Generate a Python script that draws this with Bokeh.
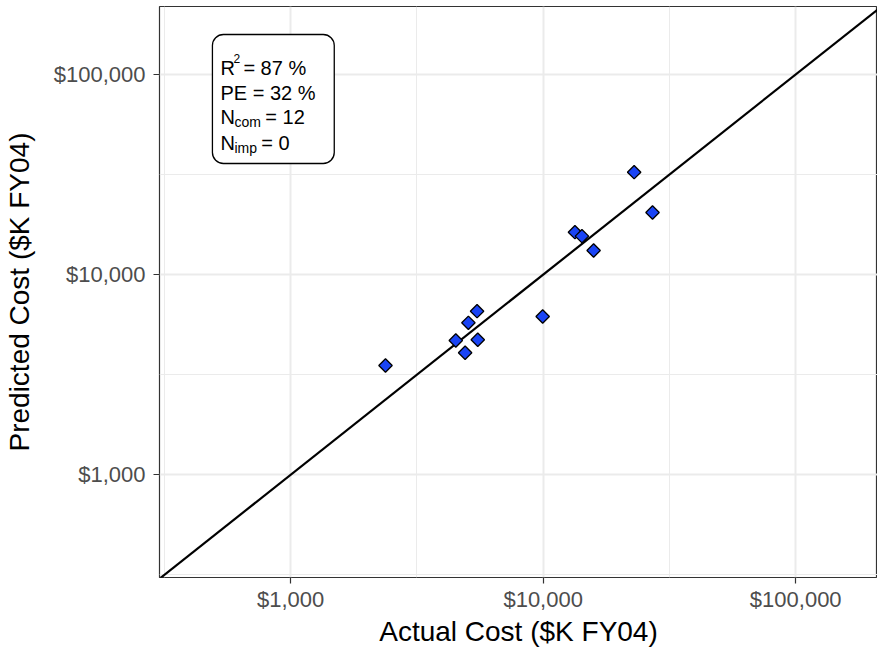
from bokeh.plotting import figure
from bokeh.models import Range1d, FixedTicker, Grid, BoxAnnotation, Label
from bokeh.embed import file_html
from bokeh.resources import INLINE
import numpy as np

# ---- data ----
actual_cost = [2375, 5473, 5057, 4508, 5508, 4908, 9955, 22920, 27100, 13360, 14240, 15840]
predicted_cost = [3516, 6568, 5746, 4688, 4726, 4070, 6180, 32500, 20440, 16300, 15570, 13200]
tick_values = [1000, 10000, 100000]
tick_labels = ["$1,000", "$10,000", "$100,000"]
minor_grid_values = [10 ** 2.5, 10 ** 3.5, 10 ** 4.5]
diag_line = [100, 1000000]
x_title = "Actual Cost ($K FY04)"
y_title = "Predicted Cost ($K FY04)"
stat_r2 = "= 87 %"
stat_pe = "PE = 32 %"
stat_ncom = "= 12"
stat_nimp = "= 0"

# ---- layout (page pixels, figure at page origin) ----
FIG_W, FIG_H = 877, 649
FRAME_L, FRAME_R, FRAME_T, FRAME_B = 158, 877, 6, 577
X_LO, X_HI = 2.4808, 5.3238
Y_LO, Y_HI = 2.4869, 5.3397
FONT = "Liberation Sans"


def px_x(px):
    return 10 ** (X_LO + (px - FRAME_L) / (FRAME_R - FRAME_L) * (X_HI - X_LO))


def px_y(py):
    return 10 ** (Y_HI - (py - FRAME_T) / (FRAME_B - FRAME_T) * (Y_HI - Y_LO))


p = figure(width=FIG_W, height=FIG_H, x_axis_type="log", y_axis_type="log",
           x_range=Range1d(10 ** X_LO, 10 ** X_HI), y_range=Range1d(10 ** Y_LO, 10 ** Y_HI),
           output_backend="svg", toolbar_location=None,
           min_border_left=FRAME_L, min_border_right=FIG_W - FRAME_R, min_border_top=FRAME_T,
           min_border_bottom=FIG_H - FRAME_B)
p.background_fill_color = "white"
p.border_fill_color = "white"
p.outline_line_color = "#333333"
p.outline_line_width = 1.2

# grids
for g in (p.xgrid, p.ygrid):
    g.ticker = FixedTicker(ticks=tick_values)
    g.grid_line_color = "#EBEBEB"
    g.grid_line_width = 2
for dim in (0, 1):
    mg = Grid(dimension=dim, ticker=FixedTicker(ticks=minor_grid_values),
              grid_line_color="#EBEBEB", grid_line_width=1)
    p.add_layout(mg)

# axes
for ax in (p.xaxis, p.yaxis):
    ax.ticker = FixedTicker(ticks=tick_values)
    ax.major_label_overrides = {v: l for v, l in zip(tick_values, tick_labels)}
    ax.axis_line_color = None
    ax.major_tick_line_color = "#333333"
    ax.major_tick_line_width = 1.2
    ax.major_tick_out = 6
    ax.major_tick_in = 0
    ax.minor_tick_line_color = None
    ax.major_label_text_font = FONT
    ax.major_label_text_font_size = "22px"
    ax.major_label_text_color = "#4D4D4D"
    ax.axis_label_text_font = FONT
    ax.axis_label_text_font_size = "28px"
    ax.axis_label_text_font_style = "normal"
    ax.axis_label_text_color = "black"
p.xaxis.axis_label = x_title
p.yaxis.axis_label = y_title
p.xaxis.major_label_standoff = 3
p.xaxis.axis_label_standoff = 1
p.yaxis.major_label_standoff = 8
p.yaxis.axis_label_standoff = 16

# diagonal
p.line(diag_line, diag_line, line_color="black", line_width=2.2)

# points
p.scatter(actual_cost, predicted_cost, marker="square", angle=np.pi / 4, size=9.5,
          fill_color="#1A44F5", line_color="black", line_width=1.3)

# stats box
box = BoxAnnotation(left=px_x(211), right=px_x(333), top=px_y(34), bottom=px_y(163),
                    fill_color="white", fill_alpha=1.0, line_color="black", line_alpha=1.0,
                    line_width=1.3, border_radius=11)
p.add_layout(box)


def lab(text, px, py, size):
    p.add_layout(Label(x=px_x(px), y=px_y(py), text=text, text_font=FONT,
                       text_font_size=size, text_baseline="alphabetic", text_color="black"))


lab("R", 219, 67, "20px")
lab("2", 232, 58, "12px")
lab(stat_r2, 242, 67, "20px")
lab(stat_pe, 219, 92, "20px")
lab("N", 219, 116, "20px")
lab("com", 233, 121, "14px")
lab(stat_ncom, 264, 116, "20px")
lab("N", 219, 142, "20px")
lab("imp", 233, 147, "14px")
lab(stat_nimp, 260, 142, "20px")

open("out.html", "w").write(file_html(p, INLINE))
